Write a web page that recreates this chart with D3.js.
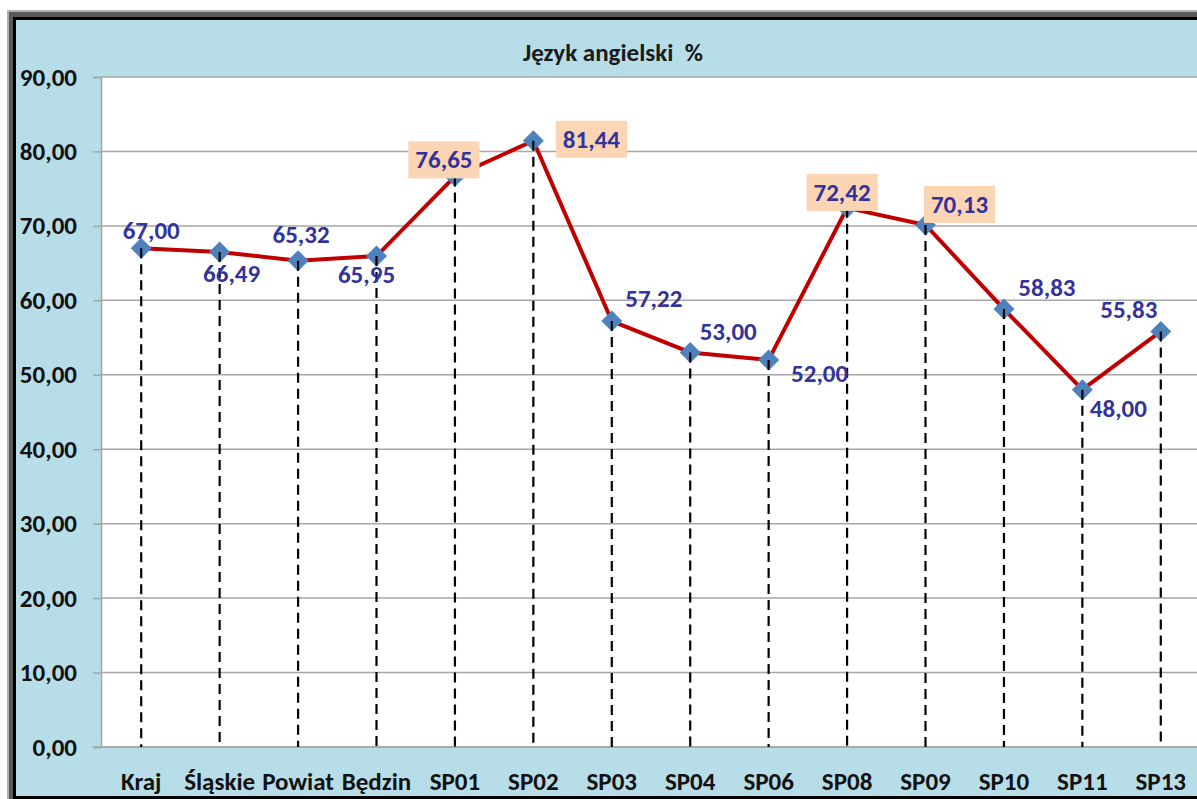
<!DOCTYPE html>
<html>
<head>
<meta charset="utf-8">
<script src="https://cdn.jsdelivr.net/npm/d3@7"></script>
<style>
  body { margin: 0; background: #ffffff; }
  svg { display: block; }
  text { font-family: Carlito, Calibri, Lato, sans-serif; font-weight: bold; white-space: pre; }
</style>
</head>
<body>
<svg id="chart" width="1197" height="799"></svg>
<script>
// chart data
const categories = ["Kraj","Śląskie","Powiat","Będzin","SP01","SP02","SP03","SP04","SP06","SP08","SP09","SP10","SP11","SP13"];
const values = [67.00,66.49,65.32,65.95,76.65,81.44,57.22,53.00,52.00,72.42,70.13,58.83,48.00,55.83];
const highlighted = ["SP01","SP02","SP08","SP09"];
const yTicks = [0,10,20,30,40,50,60,70,80,90];
const title = "Język angielski  %";

// where each value label sits relative to its point (dx, dy to text baseline)
const labelPlacement = [
  [10,-9],[12,30],[3,-18],[-10,27],[-11,-8],[58,7],[42,-14],
  [38,-12],[51,22],[-5,-7],[34,-12],[43,-13],[36,27],[-32,-13]
];

const styles = {
  frame: "#b7dde8",
  grid: "#a6a6a6",
  line: "#c00000",
  lineWidth: 4,
  marker: "#4f81bd",
  label: "#333399",
  labelBox: "#fcd5b4",
  fontSize: 25
};

const plot = { left: 101, top: 77, right: 1200, bottom: 747 };

const pl = d3.formatLocale({ decimal: ",", thousands: " ", grouping: [3], currency: ["", " zł"] });
const fmt = pl.format(".2f");

const data = categories.map((c, i) => ({ cat: c, value: values[i], place: labelPlacement[i] }));

const svg = d3.select("#chart");

// outer frame: thin grey, dark grey, black, then the light blue chart area
svg.append("rect").attr("x",7).attr("y",10).attr("width",1200).attr("height",800).attr("fill","#b0b0b0");
svg.append("rect").attr("x",9).attr("y",12).attr("width",1200).attr("height",800).attr("fill","#5a5a5a");
svg.append("rect").attr("x",13).attr("y",17).attr("width",1200).attr("height",784).attr("fill","#000000");
svg.append("rect").attr("x",16).attr("y",20).attr("width",1200).attr("height",776).attr("fill",styles.frame);

svg.append("rect")
  .attr("x",plot.left)
  .attr("y",plot.top)
  .attr("width",plot.right - plot.left)
  .attr("height",plot.bottom - plot.top)
  .attr("fill","#ffffff");

svg.append("text")
  .attr("x",613)
  .attr("y",61)
  .attr("text-anchor","middle")
  .attr("font-size",styles.fontSize)
  .attr("fill","#1a1a1a")
  .text(title);

const x = d3.scaleBand()
  .domain(categories)
  .range([102, 1200])
  .paddingInner(0)
  .paddingOuter(0);

const y = d3.scaleLinear()
  .domain([0, 90])
  .range([plot.bottom, plot.top]);

const cx = d => x(d.cat) + x.bandwidth() / 2;

// gridlines
svg.append("g")
  .selectAll("line")
  .data(yTicks)
  .enter()
  .append("line")
  .attr("x1",plot.left)
  .attr("x2",plot.right)
  .attr("y1",d => y(d))
  .attr("y2",d => y(d))
  .attr("stroke",styles.grid)
  .attr("stroke-width",1.5);

// y axis
const yAxis = svg.append("g")
  .attr("transform","translate(" + plot.left + ",0)")
  .call(d3.axisLeft(y).tickValues(yTicks).tickSize(8).tickPadding(16).tickFormat(fmt));

yAxis.select(".domain").attr("stroke",styles.grid).attr("stroke-width",1.5);
yAxis.selectAll(".tick line").attr("stroke",styles.grid).attr("stroke-width",1.5);
yAxis.selectAll("text")
  .attr("font-size",styles.fontSize)
  .attr("font-family",null)
  .attr("fill","#111111");

// x axis
const xAxis = svg.append("g")
  .attr("transform","translate(0," + plot.bottom + ")")
  .call(d3.axisBottom(x).tickSize(0).tickPadding(25));

xAxis.select(".domain").remove();
xAxis.selectAll("text")
  .attr("font-size",styles.fontSize)
  .attr("font-family",null)
  .attr("fill","#111111");

svg.append("line")
  .attr("x1",plot.left - 8)
  .attr("x2",plot.right)
  .attr("y1",plot.bottom)
  .attr("y2",plot.bottom)
  .attr("stroke",styles.grid)
  .attr("stroke-width",1.5);

// series line
const lineGenerator = d3.line()
  .x(cx)
  .y(d => y(d.value));

svg.append("path")
  .datum(data)
  .attr("fill","none")
  .attr("stroke",styles.line)
  .attr("stroke-width",styles.lineWidth)
  .attr("stroke-linejoin","round")
  .attr("d",lineGenerator);

// diamond markers
svg.append("g")
  .selectAll("path")
  .data(data)
  .enter()
  .append("path")
  .attr("d",d3.symbol(d3.symbolSquare, 220)())
  .attr("transform",d => "translate(" + cx(d) + "," + y(d.value) + ") rotate(45)")
  .attr("fill",styles.marker);

// drop lines
svg.append("g")
  .selectAll("line")
  .data(data)
  .enter()
  .append("line")
  .attr("x1",cx)
  .attr("x2",cx)
  .attr("y1",d => y(d.value))
  .attr("y2",plot.bottom)
  .attr("stroke","#000000")
  .attr("stroke-width",2.2)
  .attr("stroke-dasharray","10,6");

// value labels
const labels = svg.append("g")
  .selectAll("g")
  .data(data)
  .enter()
  .append("g")
  .attr("transform",d => "translate(" + (cx(d) + d.place[0]) + "," + (y(d.value) + d.place[1]) + ")");

labels.append("text")
  .attr("text-anchor","middle")
  .attr("font-size",styles.fontSize)
  .attr("fill",styles.label)
  .text(d => fmt(d.value));

labels.filter(d => highlighted.includes(d.cat))
  .each(function() {
    const g = d3.select(this);
    const b = g.select("text").node().getBBox();
    g.insert("rect","text")
      .attr("x",b.x - 7)
      .attr("y",b.y - 3)
      .attr("width",b.width + 14)
      .attr("height",b.height + 6)
      .attr("fill",styles.labelBox);
  });
</script>
</body>
</html>
